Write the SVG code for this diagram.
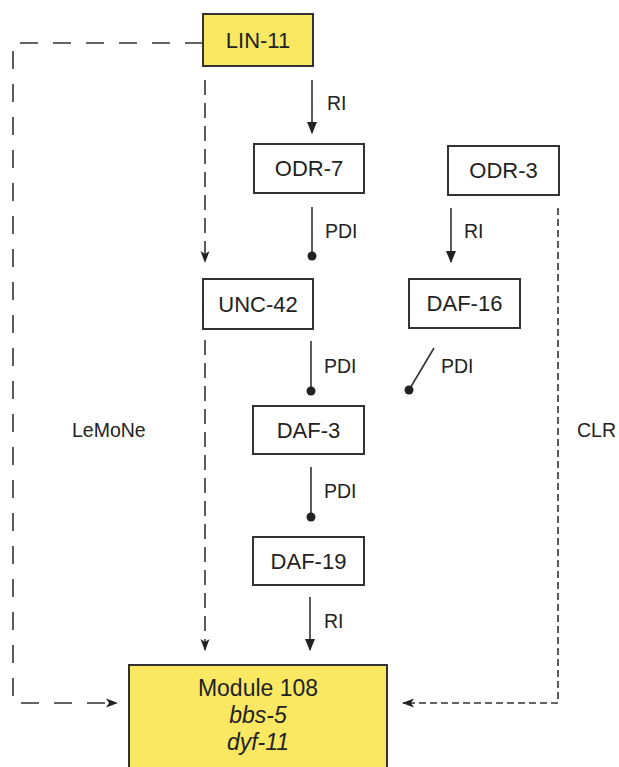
<svg xmlns="http://www.w3.org/2000/svg" width="619" height="767" viewBox="0 0 619 767">
<style>
.box{fill:#fff;stroke:#333;stroke-width:2}
.hl{fill:#FAE862;stroke:#333;stroke-width:2}
.nt{font-family:"Liberation Sans",Arial,sans-serif;font-size:22px;fill:#222;text-anchor:middle}
.mt{font-size:23px}
.lb{font-family:"Liberation Sans",Arial,sans-serif;font-size:19.5px;fill:#222}
.ln{fill:none;stroke:#333;stroke-width:1.6}
.dl{stroke-dasharray:18 15}
.dm{stroke-dasharray:15 8}
.ds{stroke-dasharray:7 4}
.dot{fill:#222}
</style>
<defs>
<marker id="arr" markerUnits="userSpaceOnUse" markerWidth="12" markerHeight="14" refX="11" refY="5" orient="auto">
<path d="M0,0 L12,5 L0,10 Z" fill="#222"/>
</marker>
<marker id="arrd" markerUnits="userSpaceOnUse" markerWidth="12" markerHeight="14" refX="11" refY="5" orient="auto">
<path d="M0,0.5 L12,5 L0,9.5 L3,5 Z" fill="#222"/>
</marker>
</defs>
<g id="connectors">
<path class="ln dl" d="M203,43 H13 V703 H117" marker-end="url(#arrd)"/>
<path class="ln dm" d="M205,80 V262" marker-end="url(#arrd)"/>
<path class="ln" d="M312,80 V133" marker-end="url(#arr)"/>
<path class="ln" d="M312,207 V256"/>
<circle class="dot" cx="312" cy="256" r="4.5"/>
<path class="ln" d="M451,208 V262" marker-end="url(#arr)"/>
<path class="ln ds" d="M558,208 V703 H403" marker-end="url(#arrd)"/>
<path class="ln dm" d="M205,340 V650" marker-end="url(#arrd)"/>
<path class="ln" d="M311,341 V391"/>
<circle class="dot" cx="311" cy="391" r="4.5"/>
<path class="ln" d="M434,348 L409,390"/>
<circle class="dot" cx="409" cy="390" r="4.5"/>
<path class="ln" d="M311,467 V517"/>
<circle class="dot" cx="311" cy="517" r="4.5"/>
<path class="ln" d="M310,597 V650" marker-end="url(#arr)"/>
<text class="lb" x="327" y="110">RI</text>
<text class="lb" x="325" y="238">PDI</text>
<text class="lb" x="464" y="238">RI</text>
<text class="lb" x="324" y="373">PDI</text>
<text class="lb" x="441" y="373">PDI</text>
<text class="lb" x="324" y="498">PDI</text>
<text class="lb" x="324" y="628">RI</text>
<text class="lb" x="72" y="437">LeMoNe</text>
<text class="lb" x="577" y="437">CLR</text>
</g>
<g id="lin11"><rect class="hl" x="203" y="14" width="110" height="52"/><text class="nt" x="258" y="48">LIN-11</text></g>
<g id="odr7"><rect class="box" x="254" y="144" width="110" height="49"/><text class="nt" x="309" y="176">ODR-7</text></g>
<g id="odr3"><rect class="box" x="448" y="146" width="111" height="49"/><text class="nt" x="503.5" y="178">ODR-3</text></g>
<g id="unc42"><rect class="box" x="203" y="279" width="110" height="50"/><text class="nt" x="258" y="312">UNC-42</text></g>
<g id="daf16"><rect class="box" x="409" y="279" width="111" height="49"/><text class="nt" x="464.5" y="311">DAF-16</text></g>
<g id="daf3"><rect class="box" x="253" y="406" width="111" height="48"/><text class="nt" x="308.5" y="438">DAF-3</text></g>
<g id="daf19"><rect class="box" x="253" y="537" width="111" height="48"/><text class="nt" x="308.5" y="569">DAF-19</text></g>
<g id="module108"><rect class="hl" x="129" y="665" width="258" height="120"/>
<text class="nt mt" x="258" y="696">Module 108</text>
<text class="nt mt" x="258" y="723" font-style="italic">bbs-5</text>
<text class="nt mt" x="258" y="750" font-style="italic">dyf-11</text></g>
</svg>
